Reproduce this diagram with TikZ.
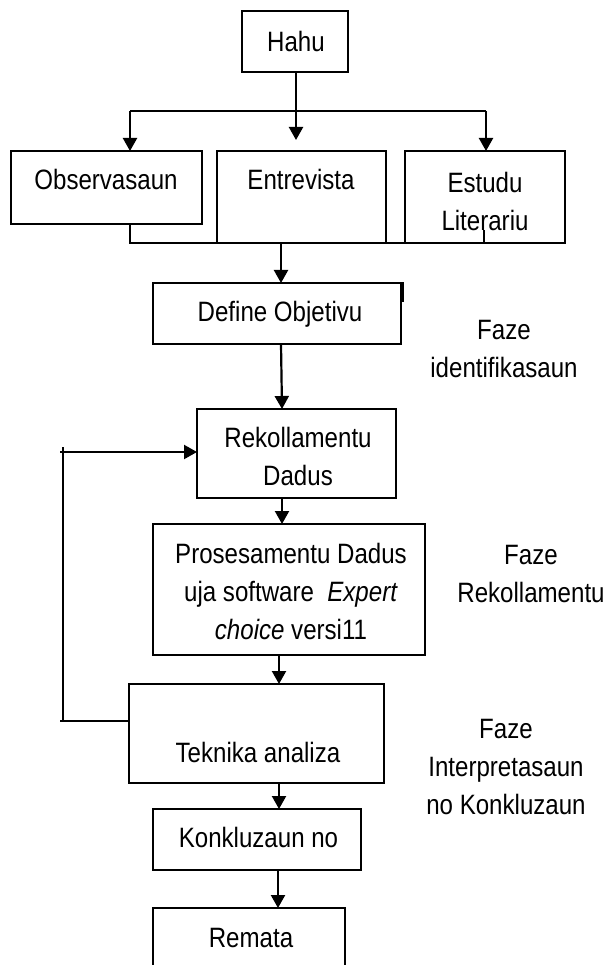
\documentclass[tikz,border=0pt]{standalone}
\usepackage{fontspec}
\setmainfont{Liberation Sans}[FakeStretch=0.86]
\usetikzlibrary{arrows.meta}
\tikzset{
  box/.style={draw, line width=2.2pt, rectangle, inner sep=0pt, outer sep=0pt},
  txt/.style={inner sep=0pt, font=\fontsize{28}{38}\selectfont, align=center},
  one/.style={txt, text height=20pt, text depth=0pt},
  ln/.style={line width=2.2pt},
  arr/.style={line width=2.2pt, -{Triangle[width=14pt,length=13pt]}}
}
\begin{document}
\begin{tikzpicture}[x=1pt,y=-1pt]
\clip (0,0) rectangle (606,965);
\fill[white] (0,0) rectangle (606,965);
% boxes
\node[box, minimum width=106pt, minimum height=61pt] (hahu) at (295,41.5) {};
\node[box, minimum width=191pt, minimum height=73pt] (obs) at (106.5,187.5) {};
\node[box, minimum width=169pt, minimum height=92pt] (entr) at (301.5,197) {};
\node[box, minimum width=160pt, minimum height=92pt] (estu) at (485,197) {};
\node[box, minimum width=248pt, minimum height=61pt] (def) at (277,313.5) {};
\node[box, minimum width=199pt, minimum height=89pt] (rek) at (296.5,453.5) {};
\node[box, minimum width=272pt, minimum height=131pt] (pros) at (289,589.5) {};
\node[box, minimum width=255pt, minimum height=99pt] (tek) at (256.5,733.5) {};
\node[box, minimum width=208pt, minimum height=61pt] (konk) at (257,839.5) {};
\node[box, minimum width=192pt, minimum height=82pt] (rem) at (249,949) {};
% texts
\node[one] (thahu) at (296,42) {Hahu};
\node[one] (tobs) at (106,180) {Observasaun};
\node[one] (tentr) at (301,180) {Entrevista};
\node[txt] (testu) at (485,201) {Estudu\\Literariu};
\node[one] (tdef) at (280,311) {Define Objetivu};
\node[txt] (fid) at (504,349) {Faze\\identifikasaun};
\node[txt] (trek) at (298,456.5) {Rekollamentu\\Dadus};
\node[txt] (tpros) at (291,591) {Prosesamentu Dadus\\uja software \ \textit{Expert}\\\textit{choice} versi11};
\node[txt] (frek) at (531,573.5) {Faze\\Rekollamentu};
\node[one] (ttek) at (258,752) {Teknika analiza};
\node[txt] (fint) at (506,767) {Faze\\Interpretasaun\\no Konkluzaun};
\node[one] (tkonk) at (258.5,837) {Konkluzaun no};
\node[one] (trem) at (251,937) {Remata};
% small jog on Define Objetivu right edge
\draw[ln] (def.north east) -- ++(2,0) -- ++(0,19);
% top distribution
\coordinate (jc) at (296,111);
\coordinate (jl) at (130,111);
\coordinate (jr) at (486,111);
\coordinate (ctip) at (296,140);
\draw[ln] (hahu.south -| jc) -- (jc);
\draw[ln] (jl) -- (jr);
\draw[arr] (jl) -- (jl |- obs.north);
\draw[arr] (jc) -- (ctip);
\draw[arr] (jr) -- (jr |- estu.north);
% collecting line
\coordinate (bl) at (130,243);
\coordinate (br) at (484,243);
\coordinate (bt) at (484,230);
\coordinate (bc) at (281,243);
\draw[ln] (bl |- obs.south) -- (bl) -- (br) -- (bt);
\draw[arr] (bc) -- (bc |- def.north);
% main chain
\draw[arr] (def.south -| 281,0) -- (rek.north -| 282,0);
\draw[arr] (rek.south -| 282,0) -- (pros.north -| 282,0);
\draw[arr] (pros.south -| 279,0) -- (tek.north -| 279,0);
\draw[arr] (tek.south -| 279,0) -- (konk.north -| 279,0);
\draw[arr] (konk.south -| 278,0) -- (rem.north -| 278,0);
% feedback loop
\coordinate (fb1) at (60,721);
\coordinate (fv1) at (63,721);
\coordinate (fv2) at (63,447);
\coordinate (fa) at (60,452);
\draw[ln] (tek.west |- fb1) -- (fb1);
\draw[ln] (fv1) -- (fv2);
\draw[arr] (fa) -- (rek.west |- fa);
\end{tikzpicture}
\end{document}
